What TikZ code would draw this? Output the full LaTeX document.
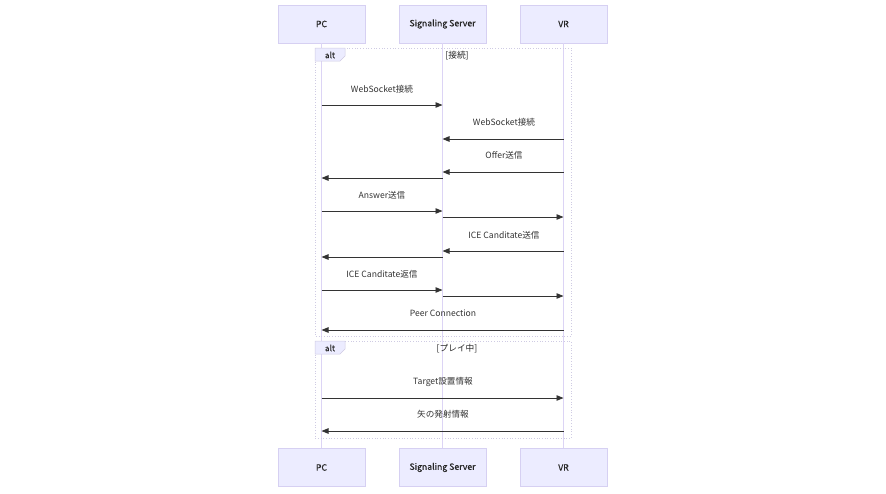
\documentclass[tikz,border=0pt]{standalone}
\usepackage{fontspec}
\setmainfont{Noto Sans CJK JP}
\newfontfamily\actfont[FakeBold=0.5]{Noto Sans CJK JP}
\usetikzlibrary{arrows.meta,calc}
\definecolor{actfill}{HTML}{ECECFF}
\definecolor{actline}{HTML}{D6D0F2}
\definecolor{lifeline}{HTML}{DCD4F5}
\definecolor{framec}{HTML}{CFCBE3}
\definecolor{arrowc}{HTML}{333333}
\begin{document}
\begin{tikzpicture}[x=1pt,y=-1pt,
  actor/.style={draw=actline,fill=actfill,line width=0.8pt,minimum width=87pt,minimum height=38pt,inner sep=0pt,font=\actfont\fontsize{8.7}{10}\selectfont,text=black!85},
  life/.style={draw=lifeline,line width=1.7pt},
  msg/.style={draw=arrowc,line width=0.9pt,-{Triangle[length=7pt,width=5.5pt]}},
  mlabel/.style={font=\fontsize{8.6}{10}\selectfont,text=black!80,inner sep=0pt},
  frame/.style={draw=framec,dotted,line width=0.7pt},
  altbox/.style={fill=actfill,draw=framec,line width=0.5pt},
  cond/.style={font=\fontsize{8.7}{10}\selectfont,text=black!85,inner sep=0pt}]
\useasboundingbox (0,0) rectangle (886,493);
% actors
\node[actor] (pcT) at (321.5,24) {PC};
\node[actor] (ssT) at (442.5,24) {Signaling Server};
\node[actor] (vrT) at (563.5,24) {VR};
\node[actor] (pcB) at (321.5,467.5) {PC};
\node[actor] (ssB) at (442.5,467.5) {Signaling Server};
\node[actor] (vrB) at (563.5,467.5) {VR};
% lifelines
\draw[life] (pcT.south) -- (pcB.north);
\draw[life] (ssT.south) -- (ssB.north);
\draw[life] (vrT.south) -- (vrB.north);
% frames
\draw[frame] (315,48) rectangle (571,336);
\draw[altbox] (315,48) -- (345,48) -- (345,56) -- (340,61) -- (315,61) -- cycle;
\node[cond,font=\actfont\fontsize{8.2}{10}\selectfont] (alt1) at (330,55) {alt};
\node[cond] (c1) at (457,55.5) {[接続]};
\draw[frame] (315,341) rectangle (571,438);
\draw[altbox] (315,341) -- (345,341) -- (345,349) -- (340,354) -- (315,354) -- cycle;
\node[cond,font=\actfont\fontsize{8.2}{10}\selectfont] (alt2) at (330,348) {alt};
\node[cond] (c2) at (457,348.5) {[プレイ中]};
% messages
\draw[msg] (pcT.south |- 0,105) -- (ssT.south |- 0,105);
\node[mlabel] (l1) at (382,89) {WebSocket接続};
\draw[msg] (vrT.south |- 0,139) -- (ssT.south |- 0,139);
\node[mlabel] (l2) at (504,122.5) {WebSocket接続};
\draw[msg] (vrT.south |- 0,172) -- (ssT.south |- 0,172);
\node[mlabel] (l3) at (504,155.5) {Offer送信};
\draw[msg] (ssT.south |- 0,178) -- (pcT.south |- 0,178);
\draw[msg] (pcT.south |- 0,211) -- (ssT.south |- 0,211);
\node[mlabel] (l4) at (382,195.5) {Answer送信};
\draw[msg] (ssT.south |- 0,217) -- (vrT.south |- 0,217);
\draw[msg] (vrT.south |- 0,251) -- (ssT.south |- 0,251);
\node[mlabel] (l5) at (504,235) {ICE Canditate送信};
\draw[msg] (ssT.south |- 0,257) -- (pcT.south |- 0,257);
\draw[msg] (pcT.south |- 0,290) -- (ssT.south |- 0,290);
\node[mlabel] (l6) at (382,274) {ICE Canditate返信};
\draw[msg] (ssT.south |- 0,296) -- (vrT.south |- 0,296);
\draw[msg] (vrT.south |- 0,330) -- (pcT.south |- 0,330);
\node[mlabel] (l7) at (443,313.5) {Peer Connection};
\draw[msg] (pcT.south |- 0,398) -- (vrT.south |- 0,398);
\node[mlabel] (l8) at (443,381.5) {Target設置情報};
\draw[msg] (vrT.south |- 0,431) -- (pcT.south |- 0,431);
\node[mlabel] (l9) at (443,414.5) {矢の発射情報};
\end{tikzpicture}
\end{document}
